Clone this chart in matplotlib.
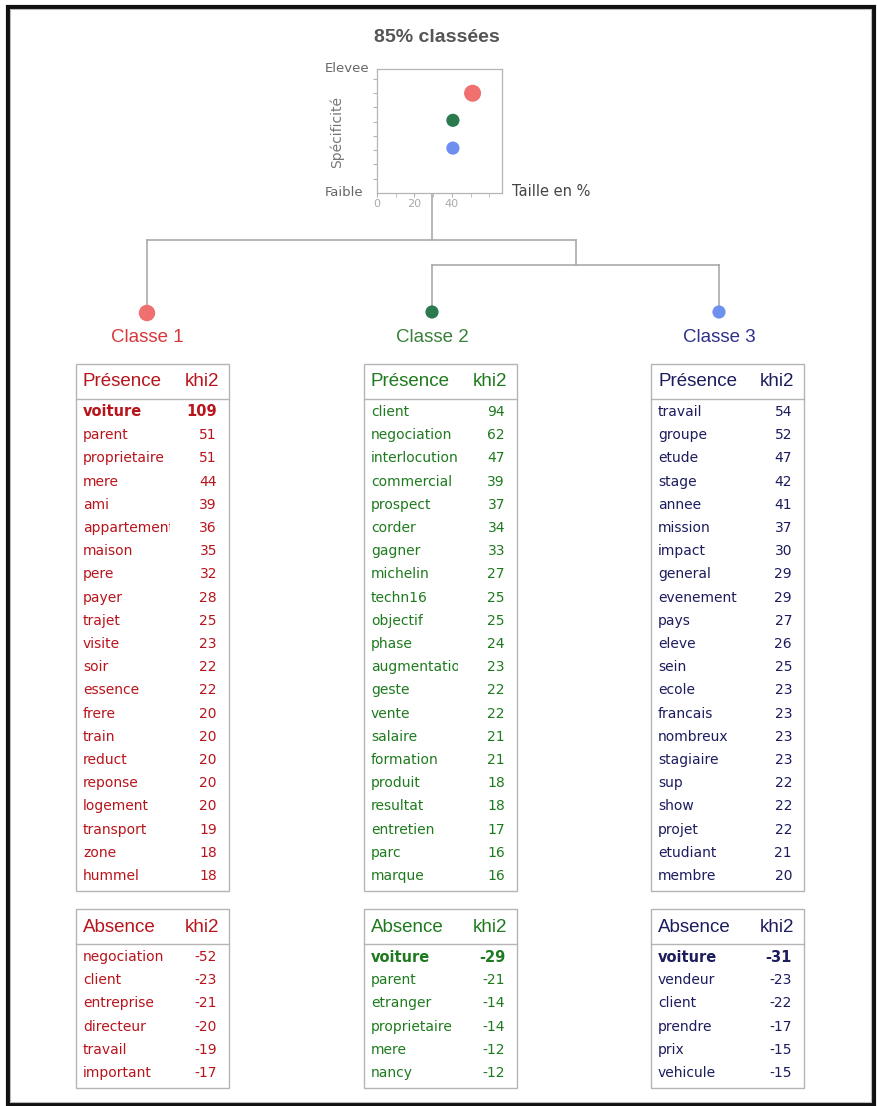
import matplotlib
matplotlib.use("Agg")
import matplotlib.pyplot as plt
from matplotlib.patches import Rectangle

# scatter: taille (%) vs specificite, one point per class
taille = [51, 40.5, 40.5]
specificite = [7.0, 5.1, 3.15]
dot_colors = ["#f07070", "#2a7a4e", "#6d8ff0"]

class_names = ["Classe 1", "Classe 2", "Classe 3"]
label_colors = ["#d8383a", "#3a7f3a", "#30308a"]
row_colors = ["#b8141c", "#1e7a1e", "#1c1c5e"]

c1_pres_words = ["voiture", "parent", "proprietaire", "mere", "ami", "appartement", "maison",
                 "pere", "payer", "trajet", "visite", "soir", "essence", "frere", "train",
                 "reduct", "reponse", "logement", "transport", "zone", "hummel"]
c1_pres_khi2 = [109, 51, 51, 44, 39, 36, 35, 32, 28, 25, 23, 22, 22, 20, 20, 20, 20, 20, 19, 18, 18]
c2_pres_words = ["client", "negociation", "interlocution", "commercial", "prospect", "corder",
                 "gagner", "michelin", "techn16", "objectif", "phase", "augmentation", "geste",
                 "vente", "salaire", "formation", "produit", "resultat", "entretien", "parc", "marque"]
c2_pres_khi2 = [94, 62, 47, 39, 37, 34, 33, 27, 25, 25, 24, 23, 22, 22, 21, 21, 18, 18, 17, 16, 16]
c3_pres_words = ["travail", "groupe", "etude", "stage", "annee", "mission", "impact", "general",
                 "evenement", "pays", "eleve", "sein", "ecole", "francais", "nombreux", "stagiaire",
                 "sup", "show", "projet", "etudiant", "membre"]
c3_pres_khi2 = [54, 52, 47, 42, 41, 37, 30, 29, 29, 27, 26, 25, 23, 23, 23, 23, 22, 22, 22, 21, 20]

c1_abs_words = ["negociation", "client", "entreprise", "directeur", "travail", "important"]
c1_abs_khi2 = [-52, -23, -21, -20, -19, -17]
c2_abs_words = ["voiture", "parent", "etranger", "proprietaire", "mere", "nancy"]
c2_abs_khi2 = [-29, -21, -14, -14, -12, -12]
c3_abs_words = ["voiture", "vendeur", "client", "prendre", "prix", "vehicule"]
c3_abs_khi2 = [-31, -23, -22, -17, -15, -15]

W, H = 877, 1106
fig = plt.figure(figsize=(W / 100, H / 100), dpi=100)
ax = fig.add_axes([0, 0, 1, 1])
ax.set_xlim(0, W)
ax.set_ylim(H, 0)
ax.axis("off")

# outer frame
ax.add_patch(Rectangle((7.5, 6.5), 866, 1098, fill=False, ec="#111111", lw=3))
ax.add_patch(Rectangle((10, 9), 861, 1093, fill=False, ec="#bbbbbb", lw=0.8))

# small scatter
sx0, sx1, sy0, sy1 = 377, 502, 69, 193
sax = fig.add_axes([sx0 / W, 1 - sy1 / H, (sx1 - sx0) / W, (sy1 - sy0) / H])
sax.set_xlim(0, 66.7)
sax.set_ylim(0, 8.7)
sax.scatter(taille, specificite, s=[150, 90, 90], c=dot_colors, edgecolors="none", zorder=3)
for sp in sax.spines.values():
    sp.set_color("#b5b5b5")
    sp.set_linewidth(0.9)
sax.set_xticks([0, 20, 40])
sax.set_xticks(range(0, 66, 10), minor=True)
sax.set_yticks(range(1, 9))
sax.set_yticklabels([])
sax.tick_params(axis="x", which="both", colors="#b5b5b5", labelcolor="#aaaaaa",
                labelsize=8, length=3, pad=1)
sax.tick_params(axis="y", which="both", colors="#b5b5b5", length=3)

ax.text(437, 37, "85% classées", ha="center", va="center", fontsize=14,
        fontweight="bold", color="#555555", family="Liberation Sans")
ax.text(369, 68, "Elevee", ha="right", va="center", fontsize=9.5, color="#666666")
ax.text(363, 192, "Faible", ha="right", va="center", fontsize=9.5, color="#666666")
ax.text(337, 132, "Spécificité", ha="center", va="center", rotation=90,
        fontsize=10, color="#777777")
ax.text(512, 192, "Taille en %", ha="left", va="center", fontsize=10.5, color="#444444")

# dendrogram
cx = [147, 432, 719]
line = dict(color="#aaaaaa", lw=1.2, zorder=1)
ax.plot([432, 432], [sy1, 240], **line)
ax.plot([cx[0], 576], [240, 240], **line)
ax.plot([576, 576], [240, 265], **line)
ax.plot([cx[1], cx[2]], [265, 265], **line)
ax.plot([cx[0], cx[0]], [240, 312], **line)
ax.plot([cx[1], cx[1]], [265, 312], **line)
ax.plot([cx[2], cx[2]], [265, 312], **line)
ax.scatter(cx, [313, 312, 312], s=[140, 90, 90], c=dot_colors, edgecolors="none", zorder=3)
for x, name, col in zip(cx, class_names, label_colors):
    ax.text(x, 338, name, ha="center", va="center", fontsize=13.5, color=col,
            family="Liberation Sans")


def draw_table(x0, x1, top, header, words, vals, color):
    n = len(words)
    first = top + 48
    step = 23.2
    bottom = first + (n - 1) * step + 15
    ax.add_patch(Rectangle((x0, top), x1 - x0, bottom - top, fill=False,
                           ec="#b5b5b5", lw=1))
    ax.plot([x0, x1], [top + 35, top + 35], color="#b5b5b5", lw=1)
    ax.text(x0 + 7, top + 18, header, ha="left", va="center", fontsize=13.5,
            color=color, family="Liberation Sans")
    ax.text(x1 - 10, top + 18, "khi2", ha="right", va="center", fontsize=13.5,
            color=color, family="Liberation Sans")
    # word column lives in its own axes so long words get cut at the column edge
    cl, cr = x0 + 2, x0 + 94
    wax = fig.add_axes([cl / W, 1 - bottom / H, (cr - cl) / W, (bottom - top) / H])
    wax.set_xlim(cl, cr)
    wax.set_ylim(bottom, top)
    wax.axis("off")
    for i, (w, v) in enumerate(zip(words, vals)):
        y = first + i * step
        bold = w == "voiture"
        wax.text(x0 + 7, y, w, ha="left", va="center", fontsize=10.5 if bold else 10,
                 fontweight="bold" if bold else "normal", color=color, clip_on=True)
        ax.text(x1 - 12, y, str(v), ha="right", va="center", fontsize=10.5 if bold else 10,
                fontweight="bold" if bold else "normal", color=color)


boxes = [(76, 229), (364, 517), (651, 804)]
pres = [(c1_pres_words, c1_pres_khi2), (c2_pres_words, c2_pres_khi2), (c3_pres_words, c3_pres_khi2)]
absn = [(c1_abs_words, c1_abs_khi2), (c2_abs_words, c2_abs_khi2), (c3_abs_words, c3_abs_khi2)]
for (x0, x1), (pw, pv), (aw, av), col in zip(boxes, pres, absn, row_colors):
    draw_table(x0, x1, 364, "Présence", pw, pv, col)
    draw_table(x0, x1, 909, "Absence", aw, av, col)

fig.savefig("out.png", dpi=100, facecolor="white")
